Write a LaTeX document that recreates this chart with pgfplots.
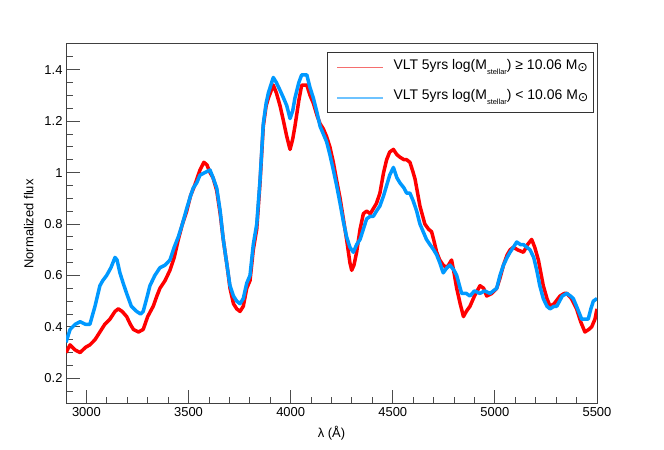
\documentclass[border=0pt]{standalone}
\usepackage{fontspec}
\setmainfont{Liberation Sans}
\newfontfamily\dejavu{DejaVu Sans}
\usepackage{pgfplots}
\pgfplotsset{compat=1.18}
\usepackage{pgfplotstable}
\definecolor{rootred}{RGB}{255,0,0}
\definecolor{rootblue}{RGB}{0,153,255}
\definecolor{legred}{RGB}{245,110,110}
\definecolor{legblue}{RGB}{110,195,255}
\pgfplotstableread{
x y
2900 0.30
2920 0.33
2945 0.31
2969 0.30
2995 0.32
3017 0.33
3042 0.35
3066 0.38
3090 0.41
3115 0.43
3140 0.46
3156 0.47
3175 0.46
3197 0.44
3215 0.41
3230 0.39
3255 0.38
3278 0.39
3300 0.44
3327 0.48
3345 0.52
3360 0.55
3385 0.58
3409 0.62
3430 0.67
3450 0.74
3470 0.80
3491 0.85
3510 0.91
3530 0.95
3556 1.01
3575 1.04
3590 1.03
3605 1.00
3620 0.98
3638 0.93
3655 0.84
3670 0.74
3690 0.63
3703 0.55
3720 0.49
3736 0.47
3752 0.46
3768 0.48
3785 0.55
3801 0.58
3817 0.70
3834 0.78
3850 0.96
3866 1.18
3880 1.26
3891 1.29
3915 1.34
3930 1.31
3948 1.26
3965 1.20
3981 1.14
3997 1.09
4010 1.13
4021 1.18
4040 1.28
4054 1.34
4079 1.34
4095 1.30
4111 1.27
4130 1.22
4144 1.19
4160 1.17
4176 1.14
4192 1.10
4209 1.04
4225 0.97
4242 0.90
4258 0.82
4274 0.74
4290 0.65
4299 0.62
4310 0.64
4323 0.69
4340 0.78
4356 0.84
4372 0.85
4390 0.84
4405 0.86
4420 0.88
4437 0.92
4455 1.00
4470 1.05
4485 1.08
4503 1.09
4520 1.07
4535 1.06
4555 1.05
4568 1.05
4584 1.04
4600 1.00
4609 0.975
4633 0.87
4657 0.80
4675 0.78
4690 0.77
4700 0.74
4715 0.69
4730 0.66
4747 0.64
4765 0.63
4788 0.66
4800 0.61
4813 0.55
4830 0.49
4846 0.44
4860 0.46
4878 0.48
4900 0.52
4927 0.56
4945 0.55
4960 0.52
4985 0.53
5009 0.55
5025 0.59
5042 0.64
5060 0.68
5075 0.70
5091 0.71
5110 0.70
5140 0.69
5160 0.72
5180 0.74
5195 0.71
5213 0.66
5225 0.61
5237 0.56
5255 0.51
5270 0.48
5290 0.49
5319 0.52
5340 0.53
5352 0.53
5375 0.51
5400 0.47
5420 0.42
5441 0.38
5460 0.39
5474 0.40
5490 0.43
5500 0.47
}\redtab
\pgfplotstableread{
x y
2900 0.34
2920 0.39
2945 0.41
2969 0.42
2995 0.41
3017 0.41
3042 0.48
3066 0.56
3080 0.58
3099 0.60
3120 0.63
3140 0.67
3150 0.66
3164 0.61
3180 0.57
3197 0.53
3220 0.48
3246 0.46
3265 0.45
3278 0.46
3295 0.51
3311 0.56
3335 0.60
3360 0.63
3385 0.64
3409 0.66
3430 0.71
3450 0.75
3470 0.80
3491 0.86
3510 0.91
3523 0.94
3540 0.96
3556 0.99
3580 1.00
3605 1.01
3620 0.98
3638 0.94
3655 0.85
3670 0.74
3690 0.63
3703 0.56
3720 0.52
3736 0.50
3752 0.49
3768 0.51
3785 0.57
3801 0.60
3817 0.72
3834 0.80
3850 0.97
3866 1.19
3880 1.27
3891 1.31
3915 1.37
3930 1.35
3948 1.32
3965 1.29
3981 1.26
3997 1.21
4010 1.24
4021 1.29
4040 1.35
4054 1.38
4079 1.38
4095 1.33
4111 1.29
4130 1.23
4144 1.18
4160 1.15
4176 1.12
4192 1.07
4209 1.01
4225 0.95
4242 0.88
4258 0.81
4274 0.75
4290 0.71
4307 0.69
4323 0.72
4340 0.74
4356 0.78
4372 0.82
4390 0.83
4405 0.83
4420 0.85
4437 0.87
4455 0.91
4470 0.95
4485 0.99
4503 1.02
4520 0.98
4535 0.96
4555 0.94
4568 0.92
4584 0.92
4600 0.89
4617 0.85
4633 0.80
4649 0.77
4665 0.74
4682 0.72
4700 0.70
4715 0.68
4730 0.65
4747 0.61
4765 0.63
4780 0.64
4800 0.62
4813 0.60
4837 0.53
4860 0.53
4878 0.52
4900 0.54
4927 0.53
4950 0.54
4976 0.53
5009 0.55
5025 0.60
5042 0.64
5060 0.67
5074 0.69
5091 0.71
5107 0.73
5125 0.72
5140 0.72
5172 0.70
5190 0.67
5205 0.62
5220 0.56
5237 0.51
5255 0.48
5270 0.47
5290 0.48
5303 0.48
5330 0.52
5352 0.53
5370 0.52
5384 0.51
5405 0.47
5425 0.43
5445 0.43
5457 0.43
5470 0.47
5482 0.50
5500 0.51
}\bluetab
\newcommand{\sun}{\raisebox{-0.3ex}{\dejavu\fontsize{12.5}{13}\selectfont ⊙}}
\newcommand{\stel}{\raisebox{-0.7ex}{\fontsize{7.5}{8}\selectfont stellar}}
\begin{document}
\begin{tikzpicture}
\useasboundingbox (0,0) rectangle (664bp,450bp);
\begin{axis}[
  at={(66bp,46bp)}, anchor=south west,
  width=531bp, height=360bp, scale only axis,
  xmin=2900, xmax=5500, ymin=0.1, ymax=1.5,
  xtick={3000,3500,4000,4500,5000,5500},
  minor xtick={3100,3200,3300,3400,3600,3700,3800,3900,4100,4200,4300,4400,4600,4700,4800,4900,5100,5200,5300,5400},
  ytick={0.2,0.4,0.6,0.8,1,1.2,1.4},
  minor ytick={0.15,0.25,0.3,0.35,0.45,0.5,0.55,0.65,0.7,0.75,0.85,0.9,0.95,1.05,1.1,1.15,1.25,1.3,1.35,1.45},
  tick align=inside, tick pos=left,
  major tick length=14bp, minor tick length=7bp,
  tick style={black!70, line width=0.9bp},
  axis line style={black!75, line width=1bp},
  /pgf/number format/assume math mode=true,
  /pgf/number format/1000 sep={},
  ticklabel style={font=\fontsize{13}{15}\selectfont},
  xlabel={λ (Å)}, ylabel={Normalized flux},
  label style={font=\fontsize{13}{15}\selectfont},
  xlabel style={at={(axis description cs:0.5,-0.081)}, anchor=center},
  ylabel style={at={(axis description cs:-0.07,0.5)}, anchor=center},
]
\addplot[rootred, line width=3.5bp, line join=round] table[x=x,y=y] {\redtab};
\addplot[rootblue, line width=3.5bp, line join=round] table[x=x,y=y] {\bluetab};
\end{axis}
% legend (plain TikZ, picture coordinates in bp)
\draw[black!80, line width=0.9bp] (327bp,337.5bp) rectangle (593bp,397.3bp);
\fill[legred] (337.3bp,382.1bp) rectangle (383.3bp,383.3bp);
\fill[legblue] (337.3bp,351.4bp) rectangle (383.3bp,352.6bp);
\node[anchor=base west, inner sep=0pt, font=\fontsize{14}{15}\selectfont] at (393.3bp,380.7bp) {VLT 5yrs log(M\stel) ≥ 10.06 M\sun};
\node[anchor=base west, inner sep=0pt, font=\fontsize{14}{15}\selectfont] at (393.3bp,350.7bp) {VLT 5yrs log(M\stel) < 10.06 M\sun};
\end{tikzpicture}
\end{document}
